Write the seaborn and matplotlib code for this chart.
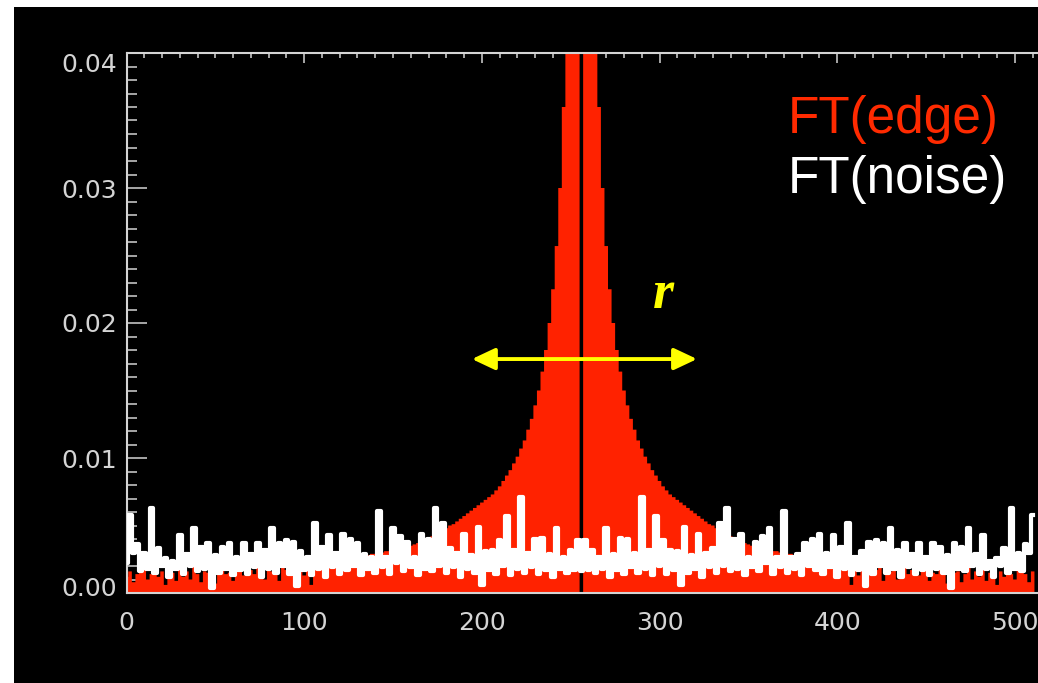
import numpy as np
import pandas as pd
import matplotlib
matplotlib.use("Agg")
import matplotlib.pyplot as plt
import seaborn as sns
from matplotlib.patches import Rectangle
from matplotlib.ticker import MultipleLocator
from matplotlib.transforms import ScaledTranslation

# ---------------- data (values in units of 1e-4) ----------------
freq = list(range(0, 512, 2))

edge_ft = [
    12, 16, 8, 14, 15, 18, 10, 14, 17, 12,
    16, 6, 14, 15, 9, 18, 12, 16, 10, 20,
    14, 8, 16, 15, 12, 7, 15, 17, 14, 15,
    9, 17, 19, 13, 21, 17, 14, 20, 22, 10,
    19, 16, 21, 9, 20, 17, 22, 15, 18, 21,
    13, 20, 6, 19, 24, 28, 20, 22, 21, 26,
    22, 25, 27, 25, 26, 27, 26, 28, 28, 29,
    29, 30, 30, 31, 31, 32, 33, 33, 34, 35,
    35, 36, 37, 38, 39, 40, 42, 44, 45, 47,
    48, 50, 51, 53, 55, 57, 59, 61, 63, 65,
    67, 69, 71, 73, 76, 79, 83, 87, 91, 96,
    101, 107, 113, 121, 129, 139, 150, 164, 180, 200,
    225, 257, 300, 360, 450, 600, 900, 1800, 0,
    1800, 900, 600, 450, 360, 300, 257, 225,
    200, 180, 164, 150, 139, 129, 121, 113, 107, 101,
    96, 91, 87, 83, 79, 76, 73, 71, 69, 67,
    65, 63, 61, 59, 57, 55, 53, 51, 50, 48,
    47, 45, 44, 42, 40, 39, 38, 37, 36, 35,
    35, 34, 33, 33, 32, 31, 31, 30, 30, 29,
    29, 28, 28, 26, 27, 26, 25, 27, 25, 22,
    26, 21, 22, 20, 28, 24, 19, 6, 20, 13,
    21, 18, 15, 22, 17, 20, 9, 21, 16, 19,
    10, 22, 20, 14, 17, 21, 13, 19, 17, 9,
    15, 14, 17, 15, 7, 12, 15, 16, 8, 14,
    20, 10, 16, 12, 18, 9, 15, 14, 6, 16,
    12, 17, 14, 10, 18, 15, 14, 8, 16,
]

noise_ft = [
    22, 58, 30, 36, 16, 30, 18, 63, 15, 33,
    20, 26, 12, 24, 18, 43, 14, 29, 20, 48,
    16, 34, 18, 37, 4, 28, 15, 34, 18, 37,
    13, 27, 17, 37, 14, 29, 19, 37, 12, 32,
    18, 48, 15, 37, 20, 39, 14, 38, 5, 31,
    17, 27, 13, 52, 18, 34, 12, 43, 19, 30,
    14, 44, 17, 40, 20, 37, 13, 29, 18, 27,
    15, 61, 19, 27, 14, 48, 22, 42, 16, 38,
    19, 27, 13, 44, 18, 40, 16, 63, 20, 52,
    15, 33, 19, 30, 12, 44, 18, 28, 15, 49,
    6, 31, 17, 32, 14, 39, 20, 57, 13, 32,
    18, 71, 15, 30, 19, 40, 14, 41, 17, 29,
    12, 48, 18, 27, 15, 32, 17, 39, 16,
    39, 17, 32, 15, 27, 18, 48, 12,
    29, 17, 41, 14, 40, 19, 30, 15, 71, 18,
    32, 13, 57, 20, 39, 14, 32, 17, 31, 6,
    49, 15, 28, 18, 44, 12, 30, 19, 33, 15,
    52, 20, 63, 16, 40, 18, 44, 13, 27, 19,
    38, 16, 42, 22, 48, 14, 27, 19, 61, 15,
    27, 18, 29, 13, 37, 20, 40, 17, 44, 14,
    30, 19, 43, 12, 34, 18, 52, 13, 27, 17,
    31, 5, 38, 14, 39, 20, 37, 15, 48, 18,
    32, 12, 37, 19, 29, 14, 37, 17, 27, 13,
    37, 18, 34, 15, 28, 4, 37, 18, 34, 16,
    48, 20, 29, 14, 43, 18, 24, 12, 26, 20,
    33, 15, 63, 18, 30, 16, 36, 30, 58,
]

x_ticks = [0, 100, 200, 300, 400, 500]
x_tick_labels = ["0", "100", "200", "300", "400", "500"]
y_ticks = [0.00, 0.01, 0.02, 0.03, 0.04]
y_tick_labels = ["0.00", "0.01", "0.02", "0.03", "0.04"]
legend_labels = ["FT(edge)", "FT(noise)"]
arrow_label = "r"

# ---------------- styling ----------------
W, H = 1038, 683
RED = "#FF2200"
RED_TXT = "#FF2A00"
AXC = "#D4D4D4"
YELLOW = "#FFFF00"

df = pd.DataFrame({
    "freq": freq,
    "edge": np.array(edge_ft, dtype=float) * 1e-4,
    "noise": np.array(noise_ft, dtype=float) * 1e-4,
})
bin_edges = [float(b) for b in range(-1, 513, 2)]

fig = plt.figure(figsize=(W / 100, H / 100), dpi=100)
fig.patch.set_facecolor("white")
fig.add_artist(Rectangle((14 / W, 0), 1 - 14 / W, 1 - 7 / H, transform=fig.transFigure,
                         facecolor="black", edgecolor="none", zorder=-10))

ax = fig.add_axes([126.5 / W, 90 / H, (W - 126.5) / W, 540 / H])
ax.set_facecolor("black")

sns.histplot(data=df, x="freq", weights="edge", bins=bin_edges,
             element="step", fill=True, color=RED, alpha=1, linewidth=0, ax=ax, zorder=2)
sns.lineplot(data=df, x="freq", y="noise", drawstyle="steps-mid", color="white",
             linewidth=3.0, estimator=None, ax=ax, zorder=2.6)

ax.set_xlabel("")
ax.set_ylabel("")
ax.set_xlim(0, 513)
ax.set_ylim(0, 0.04)

for s in ["left", "top", "bottom"]:
    ax.spines[s].set_color(AXC)
    ax.spines[s].set_linewidth(1.5)
ax.spines["right"].set_visible(False)

ax.set_xticks(x_ticks)
ax.set_xticklabels(x_tick_labels)
ax.xaxis.set_minor_locator(MultipleLocator(10))
ax.set_yticks(y_ticks)
ax.set_yticklabels(y_tick_labels)
ax.yaxis.set_minor_locator(MultipleLocator(0.001))

ax.tick_params(axis="x", which="major", direction="in", length=7.2, width=1.1, color=AXC,
               top=True, bottom=True, labelsize=18, labelcolor=AXC, pad=13)
ax.tick_params(axis="x", which="minor", direction="in", length=3.6, width=1.1, color=AXC,
               top=True, bottom=True)
ax.tick_params(axis="y", which="major", direction="in", length=14.4, width=1.1, color=AXC,
               left=True, right=False, labelsize=18, labelcolor=AXC, pad=6.8)
ax.tick_params(axis="y", which="minor", direction="in", length=7.2, width=1.1, color=AXC,
               left=True, right=False)
ax.set_axisbelow(True)

yt = ax.yaxis.get_major_ticks()
yt[0].label1.set_transform(yt[0].label1.get_transform() + ScaledTranslation(0, 0.07, fig.dpi_scale_trans))
yt[-1].label1.set_transform(yt[-1].label1.get_transform() + ScaledTranslation(0, -0.10, fig.dpi_scale_trans))

# legend-like labels
fig.text(788 / W, 1 - 133 / H, legend_labels[0], color=RED_TXT, fontsize=37,
         family="Liberation Sans", ha="left", va="baseline")
fig.text(788 / W, 1 - 193 / H, legend_labels[1], color="white", fontsize=37,
         family="Liberation Sans", ha="left", va="baseline")

# double arrow and r
ax.annotate("", xy=(194.4, 0.01733), xytext=(321.1, 0.01733),
            arrowprops=dict(arrowstyle="<|-|>,head_length=0.7,head_width=0.33",
                            color=YELLOW, lw=2.8, shrinkA=0, shrinkB=0, mutation_scale=20),
            zorder=5)
ax.text(296.3, 0.0211, arrow_label, family="Liberation Serif", style="italic", weight="bold",
        fontsize=39, color=YELLOW, ha="left", va="baseline", zorder=5)

fig.savefig("out.png", dpi=100, facecolor=fig.get_facecolor())
